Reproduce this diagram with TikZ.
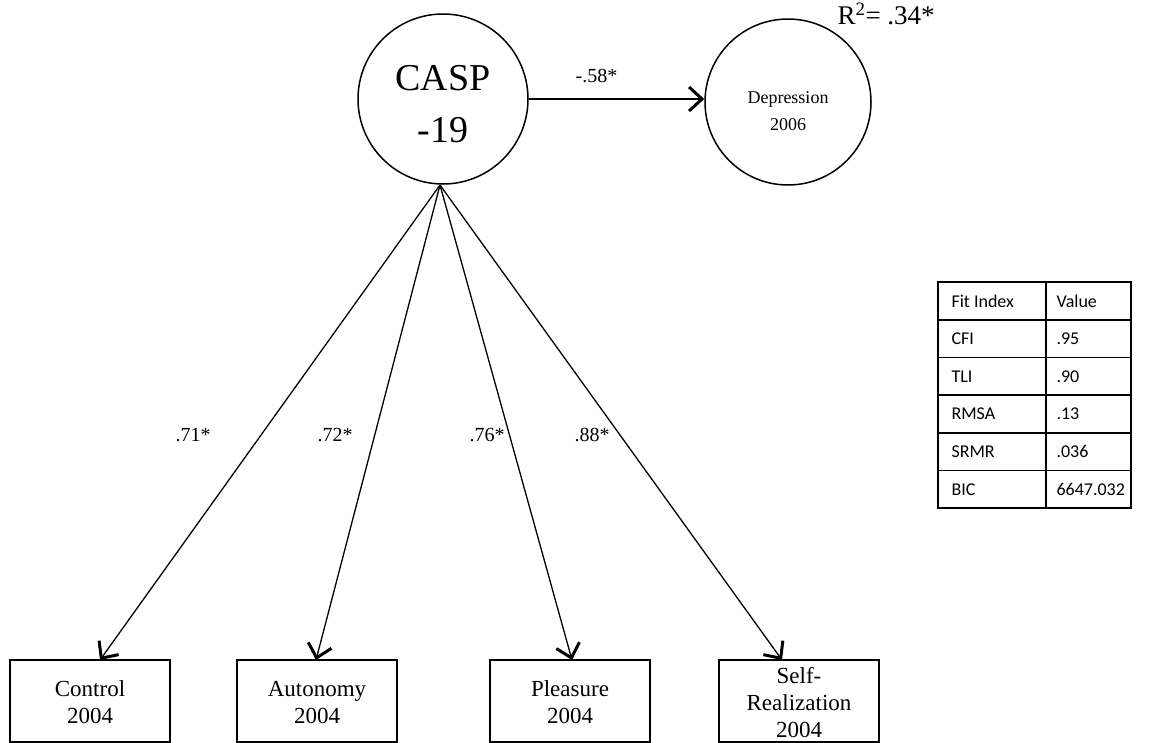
\documentclass[tikz,border=0pt]{standalone}
\usepackage{fontspec}
\setmainfont{Liberation Serif}
\newfontfamily\tabfont{Carlito}
\usetikzlibrary{arrows.meta}
\begin{document}
\begin{tikzpicture}[x=1pt,y=-1pt,
  latent/.style={draw,line width=1.5pt,circle,inner sep=0pt},
  obsbox/.style={draw,line width=1.6pt,minimum width=160pt,minimum height=82pt,inner sep=0pt,align=center,font=\fontsize{23}{27}\selectfont},
  path/.style={line width=1.3pt,-{Straight Barb[length=13pt,width=24pt,line width=3pt]}},
  coef/.style={font=\fontsize{20}{24}\selectfont},
  cell/.style={font=\tabfont\fontsize{18}{20}\selectfont,anchor=west}]
\useasboundingbox (0,0) rectangle (1151,742);

% latent and outcome circles
\node[latent,minimum size=170pt] (casp) at (443,99) {};
\node[font=\fontsize{38}{52}\selectfont,align=center] (casplab) at (443,104) {CASP\\-19};
\node[latent,minimum size=166pt] (dep) at (788,102) {};
\node[font=\fontsize{18}{27}\selectfont,align=center] (deplab) at (788,111) {Depression\\2006};
\node[font=\fontsize{27}{30}\selectfont,anchor=west] (r2) at (834,14) {R\textsuperscript{2}= .34*};

% regression path
\draw[path] (casp.east) -- (casp.east -| dep.west) node[coef,midway,above=12pt,xshift=-20pt] (b58) {-.58*};

% indicators
\node[obsbox] (control) at (90,701) {\strut Control\\2004};
\node[obsbox] (auton) at (317,701) {\strut Autonomy\\2004};
\node[obsbox] (pleas) at (570,701) {\strut Pleasure\\2004};
\node[obsbox] (selfr) at (799,701) {\strut Self-\\Realization\\2004};

\coordinate (apex) at (440,185);
\draw[path] (apex) -- (100,660);
\draw[path] (apex) -- (316,660);
\draw[path] (apex) -- (572,660);
\draw[path] (apex) -- (782,660);

\node[coef] (l71) at (193,435) {.71*};
\node[coef] (l72) at (335,435) {.72*};
\node[coef] (l76) at (487,435) {.76*};
\node[coef] (l88) at (592,435) {.88*};

% fit index table
\draw[line width=1.6pt] (938,282) rectangle (1131,508);
\draw[line width=1.6pt] (1046,282) -- (1046,508);
\foreach \yy in {319.7,357.3,395,432.7,470.3}
  \draw[line width=1.6pt] (938,\yy) -- (1131,\yy);
\foreach \r/\a/\b in {0/Fit Index/Value,1/CFI/.95,2/TLI/.90,3/RMSA/.13,4/SRMR/.036,5/BIC/6647.032}{
  \node[cell] (ta\r) at (948,301+37.67*\r) {\a};
  \node[cell] (tb\r) at (1053,301+37.67*\r) {\b};
}
\end{tikzpicture}
\end{document}
